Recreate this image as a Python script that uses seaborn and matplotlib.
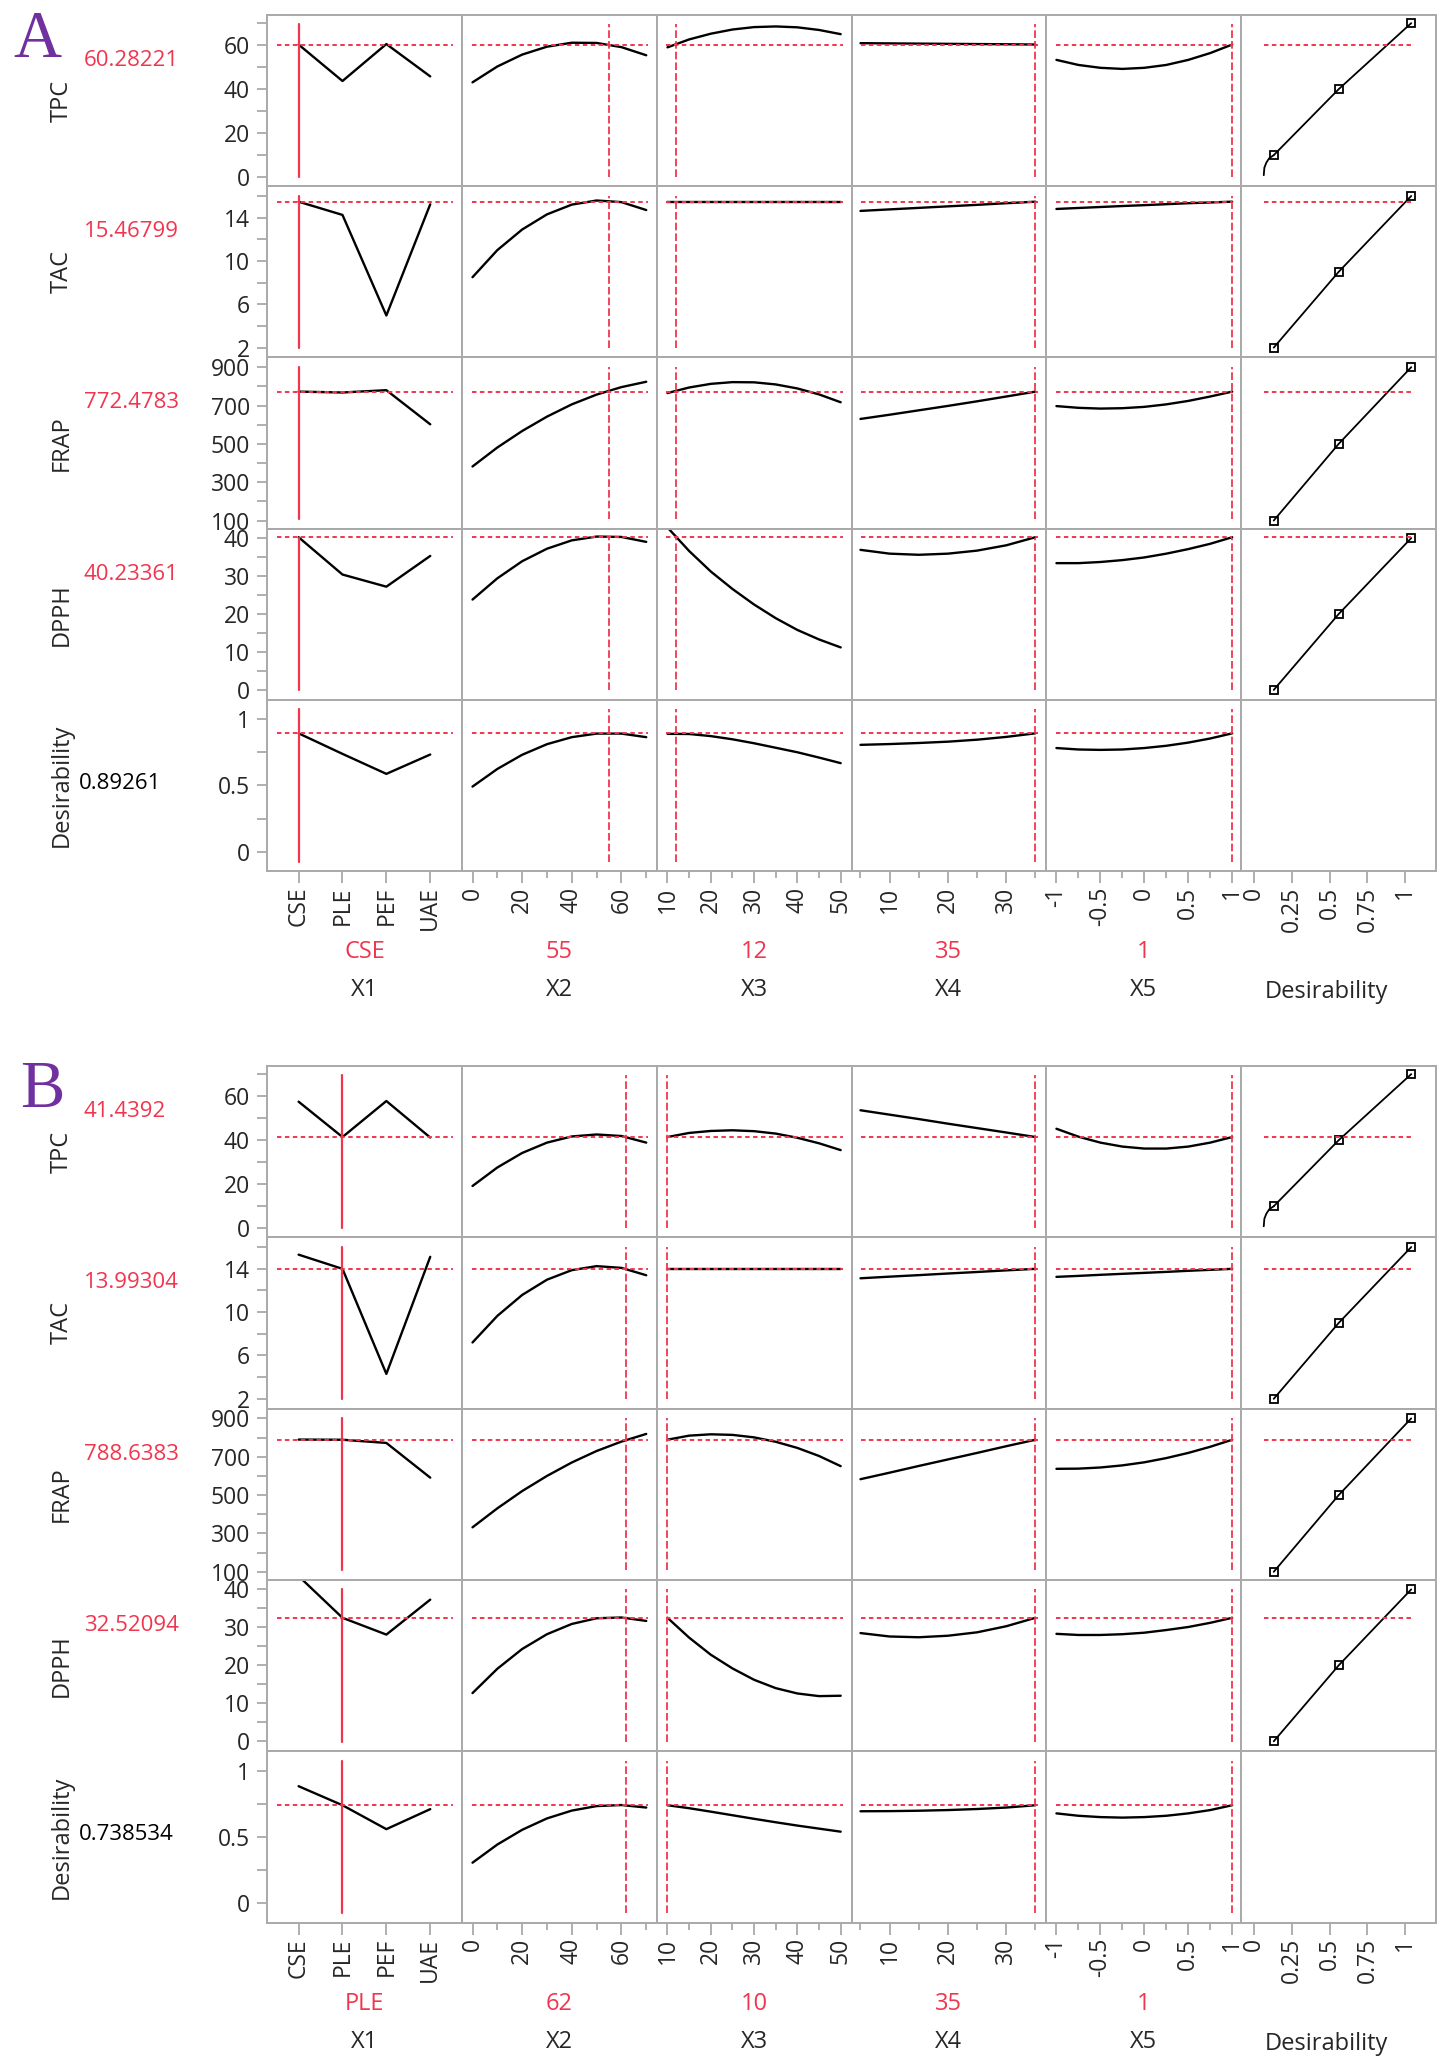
# prediction profiler, two panels (A / B)
import numpy as np
import matplotlib
matplotlib.use("Agg")
import matplotlib.pyplot as plt
import seaborn as sns

# ---- data ----
RESPONSES = ["TPC", "TAC", "FRAP", "DPPH", "Desirability"]
FACTORS = ["X1", "X2", "X3", "X4", "X5"]
X1_LEVELS = ["CSE", "PLE", "PEF", "UAE"]
X2_GRID = [0, 10, 20, 30, 40, 50, 60, 70]
X3_GRID = [10, 15, 20, 25, 30, 35, 40, 45, 50]
X4_GRID = [5, 10, 15, 20, 25, 30, 35]
X5_GRID = [-1, -0.75, -0.5, -0.25, 0, 0.25, 0.5, 0.75, 1]

A_TPC = {"X1": [60.28, 43.7, 60.5, 45.8],
         "X2": [43.1, 50.3, 55.7, 59.3, 61.1, 61.0, 59.1, 55.4],
         "X3": [59.0, 62.6, 65.2, 67.1, 68.2, 68.5, 68.1, 66.9, 65.0],
         "X4": [60.9, 60.8, 60.7, 60.6, 60.5, 60.4, 60.28],
         "X5": [53.3, 51.0, 49.7, 49.2, 49.7, 51.0, 53.3, 56.4, 60.28]}
A_TAC = {"X1": [15.47, 14.25, 4.97, 15.23],
         "X2": [8.5, 11.0, 12.9, 14.3, 15.2, 15.58, 15.43, 14.7],
         "X3": [15.47, 15.47, 15.47, 15.47, 15.47, 15.47, 15.47, 15.47, 15.47],
         "X4": [14.62, 14.76, 14.90, 15.04, 15.18, 15.33, 15.47],
         "X5": [14.8, 14.89, 14.98, 15.07, 15.15, 15.24, 15.33, 15.40, 15.47]}
A_FRAP = {"X1": [772.5, 768, 780, 602],
          "X2": [382, 481, 567, 642, 706, 757, 796, 824],
          "X3": [765, 794, 813, 822, 821, 810, 789, 758, 717],
          "X4": [630, 652, 675, 698, 722, 747, 772.5],
          "X5": [697, 688, 684, 686, 693, 706, 724, 747, 772.5]}
A_DPPH = {"X1": [40.23, 30.4, 27.2, 35.3],
          "X2": [23.8, 29.4, 33.9, 37.2, 39.4, 40.4, 40.3, 39.0],
          "X3": [42.8, 36.6, 31.2, 26.6, 22.5, 18.9, 15.8, 13.3, 11.2],
          "X4": [36.9, 35.9, 35.6, 35.9, 36.7, 38.1, 40.23],
          "X5": [33.4, 33.4, 33.7, 34.2, 34.9, 35.9, 37.1, 38.5, 40.23]}
A_DES = {"X1": [0.893, 0.738, 0.587, 0.733],
         "X2": [0.491, 0.624, 0.731, 0.811, 0.864, 0.891, 0.891, 0.864],
         "X3": [0.889, 0.888, 0.872, 0.848, 0.818, 0.784, 0.750, 0.710, 0.668],
         "X4": [0.806, 0.812, 0.820, 0.830, 0.845, 0.866, 0.893],
         "X5": [0.782, 0.771, 0.768, 0.771, 0.782, 0.799, 0.823, 0.854, 0.893]}

B_TPC = {"X1": [57.5, 41.44, 57.8, 41.2],
         "X2": [19.2, 27.6, 34.2, 38.9, 41.7, 42.6, 41.9, 38.9],
         "X3": [41.44, 43.3, 44.2, 44.5, 44.1, 43.0, 41.1, 38.6, 35.5],
         "X4": [53.6, 51.6, 49.6, 47.5, 45.5, 43.5, 41.44],
         "X5": [45.2, 41.6, 38.9, 37.1, 36.2, 36.2, 37.1, 38.9, 41.44]}
B_TAC = {"X1": [15.3, 13.99, 4.3, 15.1],
         "X2": [7.2, 9.65, 11.58, 12.99, 13.87, 14.24, 14.08, 13.4],
         "X3": [13.99, 13.99, 13.99, 13.99, 13.99, 13.99, 13.99, 13.99, 13.99],
         "X4": [13.12, 13.27, 13.41, 13.56, 13.70, 13.85, 13.99],
         "X5": [13.25, 13.34, 13.44, 13.53, 13.62, 13.71, 13.81, 13.90, 13.99]}
B_FRAP = {"X1": [789.5, 788.6, 772, 591],
          "X2": [332, 431, 521, 600, 670, 730, 779, 819],
          "X3": [789, 810, 817, 814, 801, 778, 746, 704, 651],
          "X4": [583, 617, 652, 686, 720, 755, 788.6],
          "X5": [637, 638, 644, 655, 671, 693, 720, 752, 788.6]}
B_DPPH = {"X1": [43.5, 32.52, 28.1, 37.3],
          "X2": [12.7, 19.1, 24.3, 28.2, 30.9, 32.4, 32.6, 31.7],
          "X3": [32.52, 27.3, 22.8, 19.2, 16.2, 14.0, 12.6, 11.9, 12.0],
          "X4": [28.5, 27.6, 27.4, 27.8, 28.7, 30.3, 32.52],
          "X5": [28.3, 28.0, 28.0, 28.2, 28.6, 29.3, 30.1, 31.2, 32.52]}
B_DES = {"X1": [0.882, 0.7385, 0.558, 0.709],
         "X2": [0.305, 0.442, 0.553, 0.639, 0.698, 0.732, 0.740, 0.721],
         "X3": [0.7385, 0.716, 0.690, 0.663, 0.636, 0.610, 0.585, 0.562, 0.539],
         "X4": [0.693, 0.694, 0.697, 0.702, 0.710, 0.721, 0.7385],
         "X5": [0.677, 0.659, 0.649, 0.645, 0.649, 0.659, 0.677, 0.702, 0.7385]}

# current factor settings and predicted responses
A_SET = ["CSE", 55, 12, 35, 1]
B_SET = ["PLE", 62, 10, 35, 1]
A_SET_TXT = ["CSE", "55", "12", "35", "1"]
B_SET_TXT = ["PLE", "62", "10", "35", "1"]
A_PRED = [60.28221, 15.46799, 772.4783, 40.23361, 0.89261]
B_PRED = [41.4392, 13.99304, 788.6383, 32.52094, 0.738534]
A_PRED_TXT = ["60.28221", "15.46799", "772.4783", "40.23361", "0.89261"]
B_PRED_TXT = ["41.4392", "13.99304", "788.6383", "32.52094", "0.738534"]

# desirability functions (last column)
DES_X = [0.13, 0.56, 1.04]
DES_TPC = [10, 40, 70]
DES_TAC = [2, 9, 16]
DES_FRAP = [100, 500, 900]
DES_DPPH = [0, 20, 40]
DES_TPC_TAIL_X = [0.064, 0.068, 0.081, 0.10, 0.13]
DES_TPC_TAIL_Y = [0.9, 4.3, 6.6, 8.6, 10]

# ---- axes settings ----
YLIMS = [(-4.1, 73.7), (1.1, 16.9), (58, 951), (-2.6, 42.5), (-0.146, 1.146)]
YMAJOR = [[0, 20, 40, 60], [2, 6, 10, 14], [100, 300, 500, 700, 900],
          [0, 10, 20, 30, 40], [0, 0.5, 1]]
YMAJOR_TXT = [["0", "20", "40", "60"], ["2", "6", "10", "14"],
              ["100", "300", "500", "700", "900"],
              ["0", "10", "20", "30", "40"], ["0", "0.5", "1"]]
YMINOR = [[10, 30, 50, 70], [4, 8, 12, 16], [200, 400, 600, 800],
          [5, 15, 25, 35], [0.25, 0.75]]
XLIMS = [(-0.72, 3.72), (-4.3, 74.2), (7.5, 52.5), (3.46, 36.87),
         (-1.115, 1.102), (-0.0855, 1.204)]
XMAJOR = [[0, 1, 2, 3], [0, 20, 40, 60], [10, 20, 30, 40, 50], [10, 20, 30],
          [-1, -0.5, 0, 0.5, 1], [0, 0.25, 0.5, 0.75, 1]]
XMAJOR_TXT = [X1_LEVELS, ["0", "20", "40", "60"], ["10", "20", "30", "40", "50"],
              ["10", "20", "30"], ["-1", "-0.5", "0", "0.5", "1"],
              ["0", "0.25", "0.5", "0.75", "1"]]
XMINOR = [[], [10, 30, 50, 70], [15, 25, 35, 45], [5, 15, 25, 35],
          [-0.75, -0.25, 0.25, 0.75], []]

sns.set_theme(style="white")
plt.rcParams["font.family"] = ["Open Sans", "DejaVu Sans"]
plt.rcParams["lines.scale_dashes"] = False
plt.rcParams["axes.unicode_minus"] = False

RED = "#F0364E"
GRAY = "#A9A9A9"
PURPLE = "#7030A0"
FS = 16.5

W, H = 1449, 2069
fig = plt.figure(figsize=(W / 100, H / 100), dpi=100)


def fx(px):
    return px / W


def fy(py):
    return 1 - py / H


GRID_L, GRID_R = 267, 1436
CW = (GRID_R - GRID_L) / 6


def draw_panel(letter, letter_xy, top, rh, data, settings, set_txt, preds, pred_txt):
    grids = [list(range(4)), X2_GRID, X3_GRID, X4_GRID, X5_GRID]
    des_y = [DES_TPC, DES_TAC, DES_FRAP, DES_DPPH]
    for r in range(5):
        for c in range(6):
            y_bot = top + (r + 1) * rh
            ax = fig.add_axes([fx(GRID_L + c * CW), fy(y_bot), CW / W, rh / H])
            ax.set_xlim(*XLIMS[c])
            ax.set_ylim(*YLIMS[r])
            for sp in ax.spines.values():
                sp.set_color(GRAY)
                sp.set_linewidth(1.4)
            ax.set_facecolor("white")

            if c < 5:
                sns.lineplot(x=grids[c], y=data[r][FACTORS[c]], ax=ax, color="black",
                             lw=1.7, estimator=None, sort=False)
                ax.axhline(preds[r], xmin=0.05, xmax=0.955, color=RED, lw=1.4,
                           ls=(0, (3.2, 2.5)))
                xv = X1_LEVELS.index(settings[0]) if c == 0 else settings[c]
                if c == 0:
                    ax.axvline(xv, ymin=0.055, ymax=0.945, color=RED, lw=1.6)
                else:
                    ax.axvline(xv, ymin=0.055, ymax=0.945, color=RED, lw=1.3,
                               ls=(0, (5.5, 2.2)))
            elif r < 4:
                if r == 0:
                    sns.lineplot(x=DES_TPC_TAIL_X, y=DES_TPC_TAIL_Y, ax=ax,
                                 color="black", lw=1.3, estimator=None, sort=False)
                sns.lineplot(x=DES_X, y=des_y[r], ax=ax, color="black", lw=1.3,
                             estimator=None, sort=False, marker="s", markersize=6,
                             markerfacecolor="none", markeredgecolor="black",
                             markeredgewidth=1.3)
                ax.axhline(preds[r], xmin=0.116, xmax=0.888, color=RED, lw=1.4,
                           ls=(0, (3.2, 2.5)))

            ax.set_xlabel("")
            ax.set_ylabel("")
            ax.set_xticks(XMAJOR[c])
            ax.set_xticks(XMINOR[c], minor=True)
            ax.set_yticks(YMAJOR[r])
            ax.set_yticks(YMINOR[r], minor=True)
            if r == 4:
                ax.set_xticklabels(XMAJOR_TXT[c], rotation=90, fontsize=FS)
                ax.tick_params(axis="x", which="major", bottom=True, direction="out",
                               length=8.6, width=1.3, color=GRAY, pad=2.5)
                ax.tick_params(axis="x", which="minor", bottom=True, direction="out",
                               length=4.7, width=1.3, color=GRAY)
            else:
                ax.tick_params(axis="x", which="both", bottom=False, labelbottom=False)
            if c == 0:
                ax.set_yticklabels(YMAJOR_TXT[r], fontsize=FS)
                ax.tick_params(axis="y", which="both", left=True, direction="out",
                               length=7.2, width=1.3, color=GRAY, pad=5)
            else:
                ax.tick_params(axis="y", which="both", left=False, labelleft=False)

        # row titles and predicted values
        yc = top + (r + 0.5) * rh
        fig.text(fx(62), fy(yc), RESPONSES[r], rotation=90, ha="center", va="center",
                 fontsize=FS + 0.5)
        if r < 4:
            fig.text(fx(84), fy(yc - 40), pred_txt[r], ha="left", va="center",
                     fontsize=FS - 0.5, color=RED)
        else:
            fig.text(fx(79), fy(yc - 2), pred_txt[r], ha="left", va="center",
                     fontsize=FS - 0.5, color="black")

    gb = top + 5 * rh
    for c in range(6):
        xc = GRID_L + (c + 0.5) * CW
        if c < 5:
            fig.text(fx(xc), fy(gb + 81), set_txt[c], ha="center", va="center",
                     fontsize=FS + 0.5, color=RED)
            fig.text(fx(xc), fy(gb + 119), FACTORS[c], ha="center", va="center",
                     fontsize=FS + 0.5)
        else:
            fig.text(fx(xc - 12), fy(gb + 121), "Desirability", ha="center",
                     va="center", fontsize=FS + 0.5)

    fig.text(fx(letter_xy[0]), fy(letter_xy[1]), letter, ha="left", va="baseline",
             fontsize=48, color=PURPLE, family=["Liberation Serif", "DejaVu Serif"])


draw_panel("A", (13, 57), 15, 171.2, [A_TPC, A_TAC, A_FRAP, A_DPPH, A_DES],
           A_SET, A_SET_TXT, A_PRED, A_PRED_TXT)
draw_panel("B", (20, 1107), 1066, 171.3, [B_TPC, B_TAC, B_FRAP, B_DPPH, B_DES],
           B_SET, B_SET_TXT, B_PRED, B_PRED_TXT)

fig.savefig("out.png", dpi=100)
